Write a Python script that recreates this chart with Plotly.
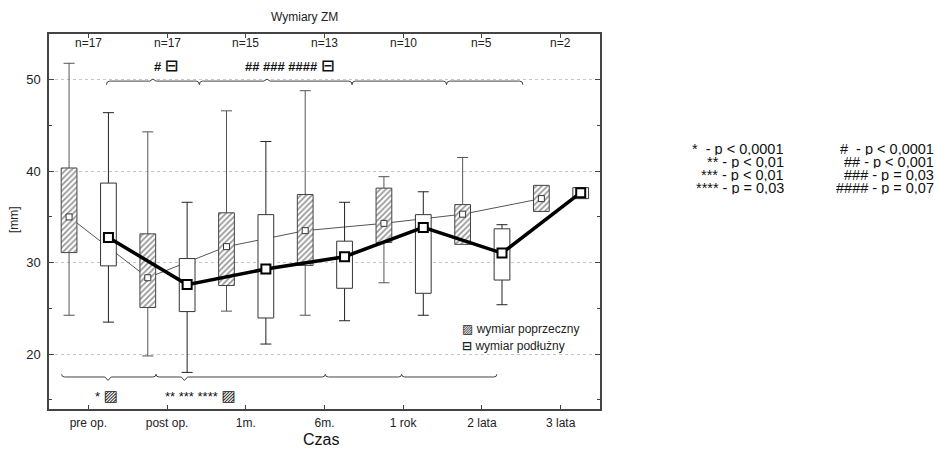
import plotly.graph_objects as go

# ---- data -------------------------------------------------------------
categories = ["pre op.", "post op.", "1m.", "6m.", "1 rok", "2 lata", "3 lata"]
n_counts = [17, 17, 15, 13, 10, 5, 2]

# wymiar poprzeczny (transverse) - median, quartiles, min, max [mm]
pop_median = [35.0, 28.35, 31.75, 33.5, 34.3, 35.3, 37.0]
pop_q1 = [31.1, 25.1, 27.5, 29.7, 32.2, 32.0, 35.6]
pop_q3 = [40.35, 33.15, 35.45, 37.45, 38.15, 36.35, 38.45]
pop_min = [24.25, 19.8, 24.7, 24.25, 27.8, 32.0, 35.6]
pop_max = [51.8, 44.3, 46.6, 48.8, 39.4, 41.5, 38.45]

# wymiar podłużny (longitudinal) - median, quartiles, min, max [mm]
pod_median = [32.75, 27.6, 29.3, 30.65, 33.85, 31.05, 37.65]
pod_q1 = [29.65, 24.65, 23.95, 27.2, 26.65, 28.1, 37.0]
pod_q3 = [38.7, 30.45, 35.25, 32.35, 35.25, 33.7, 38.2]
pod_min = [23.5, 18.0, 21.1, 23.65, 24.25, 25.4, 37.0]
pod_max = [46.4, 36.6, 43.25, 36.6, 37.75, 34.15, 38.2]

# significance legend
star_labels = ["*  - p < 0,0001", "** - p < 0,01", "*** - p < 0,01", "**** - p = 0,03"]
hash_labels = ["#  - p < 0,0001", "## - p < 0,001", "### - p = 0,03", "#### - p = 0,07"]

# ---- style ------------------------------------------------------------
FONT = "Liberation Sans, Arial, DejaVu Sans, sans-serif"
POP_SHIFT, POD_SHIFT = -0.245, 0.255
BOX_HALF = 0.1
CAP_HALF = 0.07
ICON_POD = '<span style="font-size:16px;font-family:DejaVu Sans"><b>⊟</b></span>'
ICON_POP = '<span style="font-size:15px;font-family:DejaVu Sans">▨</span>'

x_idx = list(range(len(categories)))
pop_x = [i + POP_SHIFT for i in x_idx]
pod_x = [i + POD_SHIFT for i in x_idx]


def box_paths(centers, q1, q3):
    xs, ys = [], []
    for c, lo, hi in zip(centers, q1, q3):
        xs += [c - BOX_HALF, c + BOX_HALF, c + BOX_HALF, c - BOX_HALF, c - BOX_HALF, None]
        ys += [lo, lo, hi, hi, lo, None]
    return xs, ys


def whisker_paths(centers, q1, q3, lo, hi):
    xs, ys = [], []
    for c, a, b, mn, mx in zip(centers, q1, q3, lo, hi):
        if mx > b:
            xs += [c, c, None, c - CAP_HALF, c + CAP_HALF, None]
            ys += [b, mx, None, mx, mx, None]
        if mn < a:
            xs += [c, c, None, c - CAP_HALF, c + CAP_HALF, None]
            ys += [a, mn, None, mn, mn, None]
    return xs, ys


fig = go.Figure()

# thin median line of the transverse dimension (sits under the boxes)
fig.add_trace(go.Scatter(x=pop_x, y=pop_median, mode="lines",
                         line=dict(color="#555", width=1), hoverinfo="skip"))

wx, wy = whisker_paths(pop_x, pop_q1, pop_q3, pop_min, pop_max)
fig.add_trace(go.Scatter(x=wx, y=wy, mode="lines", line=dict(color="#555", width=1)))
wx, wy = whisker_paths(pod_x, pod_q1, pod_q3, pod_min, pod_max)
fig.add_trace(go.Scatter(x=wx, y=wy, mode="lines", line=dict(color="#222", width=1)))

bx, by = box_paths(pop_x, pop_q1, pop_q3)
fig.add_trace(go.Scatter(x=bx, y=by, mode="lines", fill="toself",
                         line=dict(color="#444", width=1),
                         fillpattern=dict(shape="/", fgcolor="#2a2a2a", bgcolor="white",
                                          size=4, solidity=0.42)))
bx, by = box_paths(pod_x, pod_q1, pod_q3)
fig.add_trace(go.Scatter(x=bx, y=by, mode="lines", fill="toself", fillcolor="white",
                         line=dict(color="#333", width=1)))

fig.add_trace(go.Scatter(x=pop_x, y=pop_median, mode="markers",
                         marker=dict(symbol="square", size=6, color="white",
                                     line=dict(color="#333", width=1))))
fig.add_trace(go.Scatter(x=pod_x, y=pod_median, mode="lines+markers",
                         line=dict(color="black", width=3.5),
                         marker=dict(symbol="square", size=9, color="white",
                                     line=dict(color="black", width=2))))

# ---- braces marking the compared periods ---------------------------------
top_braces = [(0.23, 1.41, 0.82), (1.41, 3.35, 2.27), (3.35, 4.55, None), (4.55, 5.52, None)]
bottom_braces = [(-0.34, 0.86, 0.25), (0.86, 3.01, 1.22), (3.01, 3.98, None), (3.98, 5.19, None)]


def brace_path(a, b, tip, y, curl, tip_h):
    d = 0.04
    p = f"M {a},{y + curl} Q {a},{y} {a + d},{y} "
    if tip is not None:
        p += f"L {tip - d},{y} L {tip},{y + tip_h} L {tip + d},{y} "
    p += f"L {b - d},{y} Q {b},{y} {b},{y + curl}"
    return p


shapes = []
for a, b, t in top_braces:
    shapes.append(dict(type="path", xref="x", yref="y",
                       path=brace_path(a, b, t, 49.85, -0.4, 0.22),
                       line=dict(color="#444", width=1)))
for a, b, t in bottom_braces:
    shapes.append(dict(type="path", xref="x", yref="y",
                       path=brace_path(a, b, t, 17.5, 0.3, -0.38),
                       line=dict(color="#444", width=1)))


def px_x(px):
    return (px - 49) / 551


def px_y(py):
    return (409 - py) / 375


ann = []
for i, n in zip(x_idx, n_counts):
    ann.append(dict(x=i, y=px_y(43.3), xref="x", yref="paper", text=f"n={n}",
                    xanchor="center", yanchor="middle",
                    showarrow=False, font=dict(size=12, color="#222")))

ann += [
    dict(x=0.98, y=51.6, xref="x", yref="y", text=f"<b>#</b> {ICON_POD}", showarrow=False,
         xanchor="center", yanchor="middle", font=dict(size=13, color="#111")),
    dict(x=2.56, y=51.6, xref="x", yref="y", text=f"<b>## ### ####</b> {ICON_POD}",
         showarrow=False, xanchor="center", yanchor="middle", font=dict(size=13, color="#111")),
    dict(x=0.225, y=15.45, xref="x", yref="y", text=f"* {ICON_POP}", showarrow=False,
         xanchor="center", yanchor="middle", font=dict(size=13, color="#111")),
    dict(x=1.42, y=15.45, xref="x", yref="y", text=f"** *** **** {ICON_POP}", showarrow=False,
         xanchor="center", yanchor="middle", font=dict(size=13, color="#111")),
    # legend
    dict(x=px_x(460), y=px_y(329), xref="paper", yref="paper",
         xanchor="left", yanchor="middle", showarrow=False,
         text='<span style="font-family:DejaVu Sans">▨</span> wymiar poprzeczny',
         font=dict(size=12, color="#222")),
    dict(x=px_x(460), y=px_y(345.5), xref="paper", yref="paper",
         xanchor="left", yanchor="middle", showarrow=False,
         text='<span style="font-family:DejaVu Sans"><b>⊟</b></span> wymiar podłużny',
         font=dict(size=12, color="#222")),
    # titles
    dict(x=px_x(304.5), y=px_y(17.3), xref="paper", yref="paper", xanchor="center",
         yanchor="middle", text="Wymiary ZM", showarrow=False,
         font=dict(size=12, color="#222")),
    dict(x=px_x(321), y=px_y(450), xref="paper", yref="paper", xanchor="center",
         yanchor="bottom", text="Czas", showarrow=False, font=dict(size=16, color="#111")),
    dict(x=px_x(14), y=px_y(220), xref="paper", yref="paper", xanchor="center",
         yanchor="middle", text="[mm]", textangle=-90, showarrow=False,
         font=dict(size=12, color="#222")),
]

# the p-value key is set tightly, one fixed-height row per line
row_px = [148.0, 161.3, 174.6, 187.9]
ROW_H = 13.3
for s, h, ry in zip(star_labels, hash_labels, row_px):
    for txt, xr in ((s, 785), (h, 935)):
        ann.append(dict(x=px_x(xr), y=px_y(ry), xref="paper", yref="paper",
                        xanchor="right", yanchor="middle", height=ROW_H, borderpad=0,
                        valign="middle", align="right",
                        text=txt.replace("  ", "\u00a0\u00a0"), showarrow=False,
                        font=dict(size=14.5, color="#111")))

fig.update_layout(
    width=939, height=450,
    margin=dict(l=49, r=339, t=34, b=41),
    plot_bgcolor="white", paper_bgcolor="white",
    showlegend=False,
    font=dict(family=FONT, color="#222"),
    shapes=shapes,
    annotations=ann,
    xaxis=dict(range=[-0.5, 6.5], tickvals=x_idx, ticktext=categories,
               ticks="inside", ticklen=4, tickcolor="#444", showgrid=False, zeroline=False,
               showline=True, linecolor="#444", linewidth=1.5, mirror="ticks",
               tickfont=dict(size=12, color="#222"), ticklabelstandoff=2),
    yaxis=dict(range=[14, 55], tickvals=[20, 30, 40, 50],
               ticks="inside", ticklen=5, tickcolor="#444",
               minor=dict(tickvals=[15, 25, 35, 45], ticks="inside", ticklen=3, tickcolor="#444"),
               showgrid=True, gridcolor="#c4c4c4", griddash="dot", gridwidth=1, zeroline=False,
               showline=True, linecolor="#444", linewidth=1.5, mirror="ticks",
               tickfont=dict(size=13, color="#222"), ticklabelstandoff=4),
)

fig.write_html("out.html")
